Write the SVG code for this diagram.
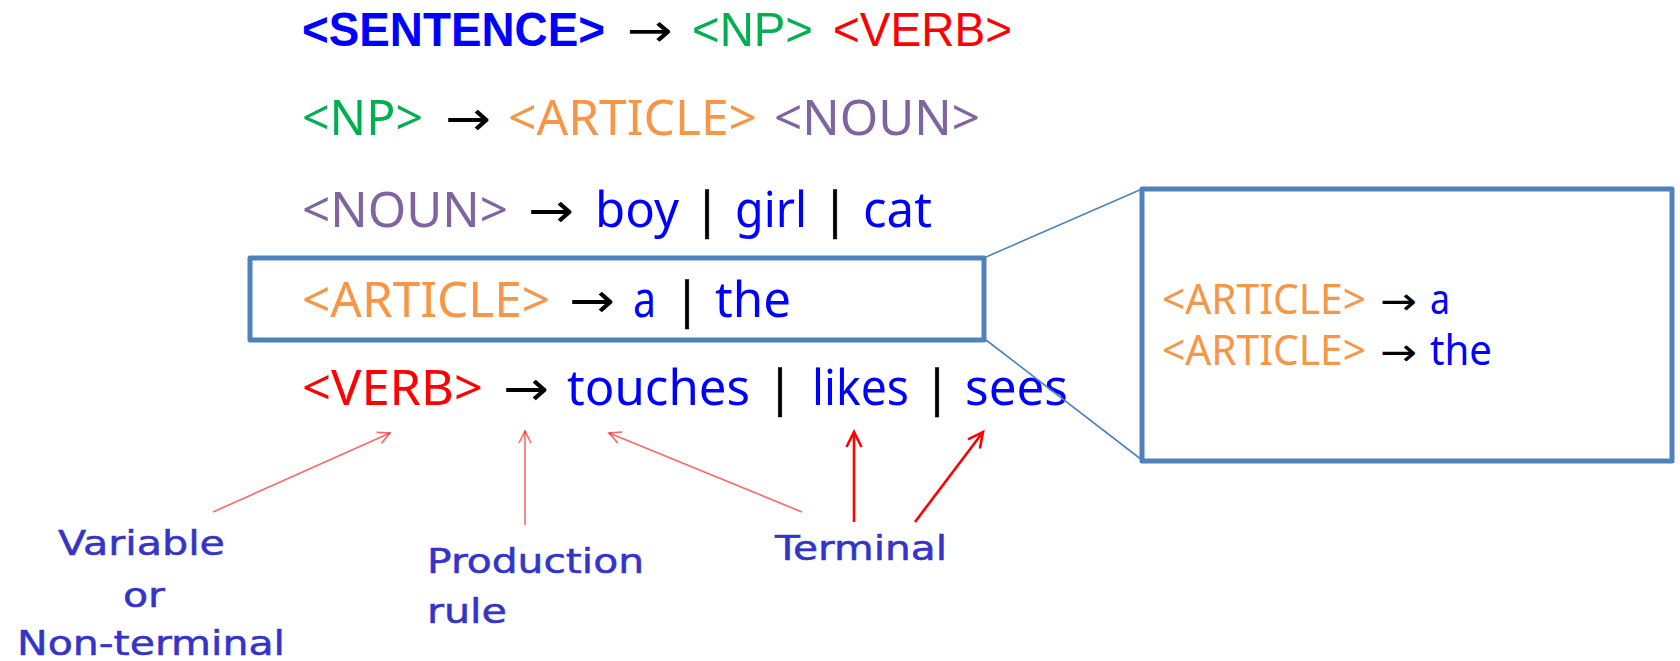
<svg xmlns="http://www.w3.org/2000/svg" width="1680" height="661" viewBox="0 0 1680 661">
<style>
.t{font-family:"Noto Sans","DejaVu Sans",sans-serif;font-size:50px}
.t1{font-family:"Liberation Sans","Noto Sans",sans-serif;font-size:49px}
.s{font-family:"Noto Sans","DejaVu Sans",sans-serif;font-size:41px}
.ar{font-family:"Noto Sans","DejaVu Sans",sans-serif;fill:#000}
.bar{fill:#000;stroke:#000;stroke-width:0.5}
.b{font-weight:bold}
.blue{fill:#0000FF}.green{fill:#00B050}.red{fill:#FF0000}.orange{fill:#F79646}.purple{fill:#8064A2}.blk{fill:#000}
.lab{font-family:"DejaVu Sans",sans-serif;font-size:33px;fill:#3434C8;stroke:#3434C8;stroke-width:0.5}
.box{fill:none;stroke:#4F81BD;stroke-width:5;stroke-linejoin:round}
.zl{stroke:#4F81BD;stroke-width:1.6;fill:none}
.thin{stroke:#FF0000;stroke-opacity:0.6;stroke-width:1.6;fill:none}
.thick{stroke:#FF0000;stroke-width:2.6;fill:none}
</style>
<defs>
<marker id="ah1" markerUnits="userSpaceOnUse" markerWidth="16" markerHeight="16" refX="13" refY="7" orient="auto">
<path d="M1,1 L13,7 L1,13" fill="none" stroke="#FF0000" stroke-opacity="0.6" stroke-width="1.6"/>
</marker>
<marker id="ah2" markerUnits="userSpaceOnUse" markerWidth="20" markerHeight="20" refX="16" refY="9" orient="auto">
<path d="M1,1.5 L16,9 L1,16.5" fill="none" stroke="#FF0000" stroke-width="2.6"/>
</marker>
</defs>
<rect width="1680" height="661" fill="#fff"/>

<g id="rule-sentence">
<text class="t1 b blue" x="302" y="46" textLength="303" lengthAdjust="spacingAndGlyphs">&lt;SENTENCE&gt;</text>
<text class="ar" x="627" y="46" font-size="46" textLength="46" lengthAdjust="spacingAndGlyphs">→</text>
<text class="t1 green" x="692" y="46" textLength="121" lengthAdjust="spacingAndGlyphs">&lt;NP&gt;</text>
<text class="t1 red" x="833" y="46" textLength="179" lengthAdjust="spacingAndGlyphs">&lt;VERB&gt;</text>
</g>

<g id="rule-np">
<text class="t green" x="302" y="135" textLength="121" lengthAdjust="spacingAndGlyphs">&lt;NP&gt;</text>
<text class="ar" x="445" y="135" font-size="48" textLength="46" lengthAdjust="spacingAndGlyphs">→</text>
<text class="t orange" x="508" y="135" textLength="249" lengthAdjust="spacingAndGlyphs">&lt;ARTICLE&gt;</text>
<text class="t purple" x="774" y="135" textLength="206" lengthAdjust="spacingAndGlyphs">&lt;NOUN&gt;</text>
</g>

<g id="rule-noun">
<text class="t purple" x="302" y="227" textLength="206" lengthAdjust="spacingAndGlyphs">&lt;NOUN&gt;</text>
<text class="ar" x="528" y="227" font-size="48" textLength="46" lengthAdjust="spacingAndGlyphs">→</text>
<text class="t blue" x="595" y="227" textLength="84" lengthAdjust="spacingAndGlyphs">boy</text>
<text class="t bar" x="707" y="227" text-anchor="middle">|</text>
<text class="t blue" x="735" y="227" textLength="72" lengthAdjust="spacingAndGlyphs">girl</text>
<text class="t bar" x="835" y="227" text-anchor="middle">|</text>
<text class="t blue" x="863" y="227" textLength="69" lengthAdjust="spacingAndGlyphs">cat</text>
</g>

<g id="rule-article">
<rect class="box" x="250" y="258" width="734" height="82"/>
<text class="t orange" x="302" y="317" textLength="248" lengthAdjust="spacingAndGlyphs">&lt;ARTICLE&gt;</text>
<text class="ar" x="569" y="317" font-size="48" textLength="46" lengthAdjust="spacingAndGlyphs">→</text>
<text class="t blue" x="633" y="317" textLength="23" lengthAdjust="spacingAndGlyphs">a</text>
<text class="t bar" x="687" y="317" text-anchor="middle">|</text>
<text class="t blue" x="715" y="317" textLength="76" lengthAdjust="spacingAndGlyphs">the</text>
</g>

<g id="rule-verb">
<text class="t red" x="302" y="405" textLength="181" lengthAdjust="spacingAndGlyphs">&lt;VERB&gt;</text>
<text class="ar" x="503" y="405" font-size="48" textLength="46" lengthAdjust="spacingAndGlyphs">→</text>
<text class="t blue" x="567" y="405" textLength="183" lengthAdjust="spacingAndGlyphs">touches</text>
<text class="t bar" x="780" y="405" text-anchor="middle">|</text>
<text class="t blue" x="812" y="405" textLength="97" lengthAdjust="spacingAndGlyphs">likes</text>
<text class="t bar" x="937" y="405" text-anchor="middle">|</text>
<text class="t blue" x="965" y="405" textLength="103" lengthAdjust="spacingAndGlyphs">sees</text>
</g>

<g id="zoom-box">
<rect class="box" x="1142" y="189" width="530" height="272"/>
<text class="s orange" x="1162" y="314" textLength="204" lengthAdjust="spacingAndGlyphs">&lt;ARTICLE&gt;</text>
<text class="ar" x="1380" y="314" font-size="38" textLength="37" lengthAdjust="spacingAndGlyphs">→</text>
<text class="s blue" x="1430" y="314" textLength="20" lengthAdjust="spacingAndGlyphs">a</text>
<text class="s orange" x="1162" y="365" textLength="204" lengthAdjust="spacingAndGlyphs">&lt;ARTICLE&gt;</text>
<text class="ar" x="1380" y="365" font-size="38" textLength="37" lengthAdjust="spacingAndGlyphs">→</text>
<text class="s blue" x="1430" y="365" textLength="62" lengthAdjust="spacingAndGlyphs">the</text>
</g>

<g id="label-variable">
<text class="lab" x="58" y="555" textLength="167" lengthAdjust="spacingAndGlyphs">Variable</text>
<text class="lab" x="123" y="607" textLength="42" lengthAdjust="spacingAndGlyphs">or</text>
<text class="lab" x="17" y="655" textLength="268" lengthAdjust="spacingAndGlyphs">Non-terminal</text>
</g>
<g id="label-production">
<text class="lab" x="427" y="573" textLength="217" lengthAdjust="spacingAndGlyphs">Production</text>
<text class="lab" x="427" y="623" textLength="80" lengthAdjust="spacingAndGlyphs">rule</text>
</g>
<g id="label-terminal">
<text class="lab" x="775" y="560" textLength="172" lengthAdjust="spacingAndGlyphs">Terminal</text>
</g>

<g id="connectors">
<line class="zl" x1="986" y1="257" x2="1142" y2="189"/>
<line class="zl" x1="986" y1="340" x2="1142" y2="460"/>
<line class="thin" x1="213" y1="512" x2="390" y2="433" marker-end="url(#ah1)"/>
<line class="thin" x1="525" y1="525" x2="525" y2="431" marker-end="url(#ah1)"/>
<line class="thin" x1="802" y1="512" x2="609" y2="433" marker-end="url(#ah1)"/>
<line class="thick" x1="854" y1="522" x2="854" y2="432" marker-end="url(#ah2)"/>
<line class="thick" x1="915" y1="522" x2="983" y2="432" marker-end="url(#ah2)"/>
</g>
</svg>
